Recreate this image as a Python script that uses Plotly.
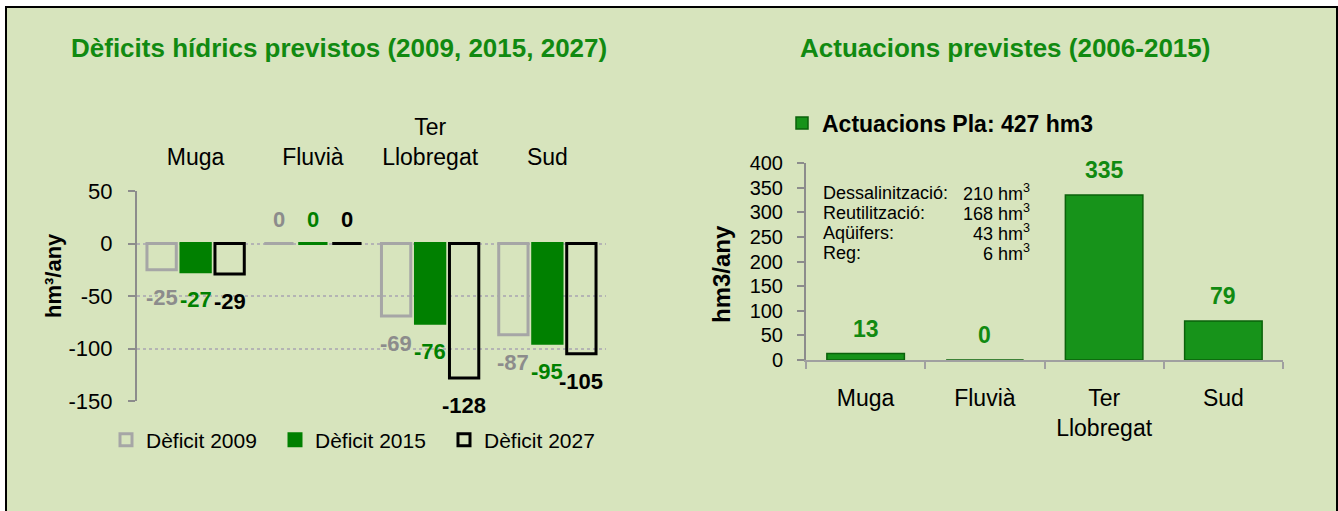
import plotly.graph_objects as go

W, H = 1338, 511

# --- data ---
categories = ["Muga", "Fluvià", "Ter<br>Llobregat", "Sud"]
deficit_2009 = [-25, 0, -69, -87]
deficit_2015 = [-27, 0, -76, -95]
deficit_2027 = [-29, 0, -128, -105]
deficit_ticks = [-150, -100, -50, 0, 50]

actuacions = [13, 0, 335, 79]
actuacions_ticks = [0, 50, 100, 150, 200, 250, 300, 350, 400]
total_pla = 427
detall_noms = ["Dessalinització:", "Reutilització:", "Aqüifers:", "Reg:"]
detall_hm3 = [210, 168, 43, 6]

# --- styling ---
FONT = "Liberation Sans, Arial, sans-serif"
BG = "#D7E4BD"
GREEN = "#008000"
TITLE_GREEN = "#118A11"
AXIS_GRAY = "#8C8C8C"
SLOT = 0.29      # distance between grouped bars (category units)
BAR_W = 0.25


def fx(p):
    return p / W


def fy(p):
    return 1 - p / H


def note(x, y, text, size, color="black", bold=False, **kw):
    d = dict(x=fx(x), y=fy(y), xref="paper", yref="paper", text=text,
             showarrow=False, xanchor="center", yanchor="middle",
             font=dict(family=FONT, size=size, color=color,
                       weight="bold" if bold else "normal"))
    d.update(kw)
    return d


left_x = [fx(137), fx(606)]
left_y = [fy(401), fy(191)]
right_x = [fx(806), fx(1283)]
right_y = [fy(360), fy(163)]

idx = list(range(len(categories)))

series = [
    ("Dèficit 2009", deficit_2009, "rgba(0,0,0,0)", "#A6A6A6", "#8C8C8C"),
    ("Dèficit 2015", deficit_2015, GREEN, GREEN, GREEN),
    ("Dèficit 2027", deficit_2027, "rgba(0,0,0,0)", "#000000", "#000000"),
]

fig = go.Figure()
annotations = []

for k, (name, vals, fill, line, lab) in enumerate(series):
    shift = (k - 1) * SLOT
    fig.add_trace(go.Bar(
        x=idx, y=vals, name=name, xaxis="x", yaxis="y",
        width=BAR_W, offset=shift - BAR_W / 2,
        marker=dict(color=fill, line=dict(color=line, width=3)),
        legend="legend", hoverinfo="skip",
    ))
    for i, v in zip(idx, vals):
        annotations.append(dict(
            x=i + shift, y=v, xref="x", yref="y", text=str(v),
            showarrow=False, xanchor="center", yanchor="middle",
            yshift=24 if v >= 0 else -28,
            font=dict(family=FONT, size=22, color=lab, weight="bold"),
        ))

fig.add_trace(go.Bar(
    x=idx, y=actuacions, name=f"Actuacions Pla: {total_pla} hm3",
    xaxis="x2", yaxis="y2", width=0.65,
    marker=dict(color="#17931A", line=dict(color="#0B620B", width=1.5)),
    legend="legend2", hoverinfo="skip",
))
for i, v in zip(idx, actuacions):
    annotations.append(dict(
        x=i, y=v, xref="x2", yref="y2", text=str(v), showarrow=False,
        xanchor="center", yanchor="middle", yshift=25,
        font=dict(family=FONT, size=23, color=TITLE_GREEN, weight="bold"),
    ))

# titles
annotations.append(note(339, 48, "Dèficits hídrics previstos (2009, 2015, 2027)",
                        26, TITLE_GREEN, True))
annotations.append(note(1005, 48, "Actuacions previstes (2006-2015)",
                        26, TITLE_GREEN, True))

# y axis titles
annotations.append(note(53, 276, "hm³/any", 22, bold=True, textangle=-90))
annotations.append(note(721, 274, "hm3/any", 24, bold=True, textangle=-90))

# breakdown text box
for j, (nom, v) in enumerate(zip(detall_noms, detall_hm3)):
    yy = 193 + 20 * j
    annotations.append(note(821, yy, nom, 18, xanchor="left"))
    annotations.append(note(1032, yy, f"{v} hm<sup>3</sup>", 18, xanchor="right"))

zero_pos = left_y[0] + (0 - (-150)) / 200 * (left_y[1] - left_y[0])

fig.update_layout(
    width=W, height=H,
    margin=dict(l=0, r=0, t=0, b=0, autoexpand=False),
    paper_bgcolor="white", plot_bgcolor="rgba(0,0,0,0)",
    font=dict(family=FONT, color="black"),
    barmode="group",
    shapes=[dict(type="rect", xref="paper", yref="paper",
                 x0=fx(6), x1=fx(1337), y0=-0.05, y1=fy(7),
                 fillcolor=BG, line=dict(color="black", width=2), layer="below")],
    annotations=annotations,
    xaxis=dict(domain=left_x, anchor="y", side="top", range=[-0.5, 3.5],
               tickvals=idx, ticktext=categories, ticks="", showline=False,
               showgrid=False, zeroline=False, tickfont=dict(size=23),
               ticklabelstandoff=20, automargin=False),
    xaxis3=dict(overlaying="x", anchor="free", position=zero_pos, range=[-0.5, 3.5],
                tickvals=[-0.5, 0.5, 1.5, 2.5, 3.5], showticklabels=False,
                ticks="outside", ticklen=7, tickwidth=2, tickcolor="#A0A0A0",
                showline=True, linecolor="#A0A0A0", linewidth=2,
                showgrid=False, zeroline=False, automargin=False),
    yaxis=dict(domain=left_y, anchor="x", range=[-150, 50],
               tickvals=deficit_ticks, ticktext=[str(t) for t in deficit_ticks],
               showgrid=True, gridcolor="#B4B4B4", griddash="dot", gridwidth=1.5,
               showline=True, linecolor=AXIS_GRAY, linewidth=2,
               ticks="outside", ticklen=7, tickwidth=2, tickcolor=AXIS_GRAY,
               zeroline=False, tickfont=dict(size=22), ticklabelstandoff=11,
               automargin=False),
    xaxis2=dict(domain=right_x, anchor="y2", range=[-0.5, 3.5],
                tickvals=idx, ticktext=categories, ticks="",
                showline=True, linecolor="#A0A0A0", linewidth=2,
                minor=dict(tickmode="linear", tick0=0.5, dtick=1, ticks="outside",
                           ticklen=7, tickwidth=2, tickcolor="#A0A0A0", showgrid=False),
                showgrid=False, zeroline=False, tickfont=dict(size=23),
                ticklabelstandoff=16, automargin=False),
    yaxis2=dict(domain=right_y, anchor="x2", range=[0, 400],
                tickvals=actuacions_ticks,
                showgrid=False, showline=True, linecolor=AXIS_GRAY, linewidth=2,
                ticks="outside", ticklen=7, tickwidth=2, tickcolor=AXIS_GRAY,
                zeroline=False, tickfont=dict(size=20), ticklabelstandoff=10,
                automargin=False),
    legend=dict(orientation="h", x=fx(106), y=fy(440), xanchor="left", yanchor="middle",
                font=dict(size=21), entrywidth=124, bgcolor="rgba(0,0,0,0)",
                traceorder="normal"),
    legend2=dict(orientation="h", x=fx(782), y=fy(123), xanchor="left", yanchor="middle",
                 font=dict(size=23, weight="bold"), bgcolor="rgba(0,0,0,0)"),
)

# drop the page's default body margin so the figure sits at the window's corner
fig.write_html("out.html", config={"displayModeBar": False},
               post_script="document.body.style.margin='0';")
